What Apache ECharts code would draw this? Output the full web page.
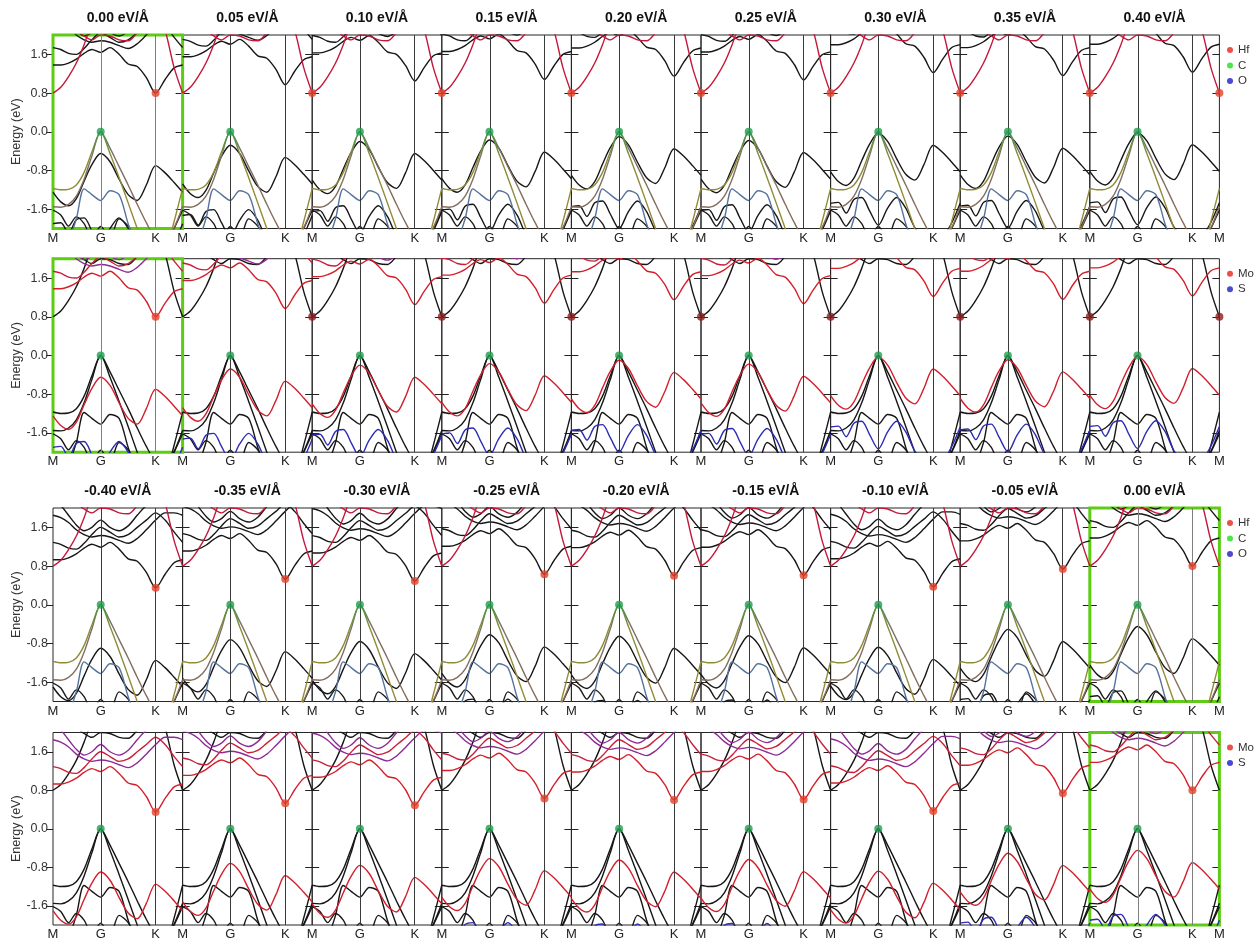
<!DOCTYPE html>
<html>
<head>
<meta charset="utf-8">
<title>Band structures under electric field</title>
<script src="https://cdn.jsdelivr.net/npm/echarts@6.0.0/dist/echarts.min.js"></script>
<style>
  html, body { margin: 0; padding: 0; background: #fff; }
  #chart { width: 1257px; height: 941px; }
</style>
</head>
<body>
<div id="chart"></div>
<script>
// k-path M-G-K-M scaled to 0..1
const kPos = [0, 0.06, 0.12, 0.18, 0.24, 0.30, 0.368, 0.44, 0.51, 0.58, 0.65, 0.72, 0.792, 0.865, 0.935, 1];
const kTicks = [0, 0.368, 0.792, 1];
const kLabels = ['M', 'G', 'K', 'M'];
const energyTicks = [-1.6, -0.8, 0, 0.8, 1.6];

const fieldsPos = ['0.00', '0.05', '0.10', '0.15', '0.20', '0.25', '0.30', '0.35', '0.40'];
const fieldsNeg = ['-0.40', '-0.35', '-0.30', '-0.25', '-0.20', '-0.15', '-0.10', '-0.05', '0.00'];
// MoS2-layer bands move almost rigidly with the field; offset
const moShiftPos = [0, 0.17, 0.25, 0.28, 0.35, 0.27, 0.42, 0.36, 0.43];
const moShiftNeg = [-0.45, -0.27, -0.31, -0.17, -0.20, -0.19, -0.43, -0.06, 0];

// Hf2CO2-layer bands (eV), same in every panel
const vbC1 = [-1.17, -1.2, -1.19, -1.1, -0.84, -0.42, 0, -0.45, -0.95, -1.47, -2.0, -2.5, -2.7, -2.5, -1.85, -1.17];
const vbC2 = [-1.55, -1.56, -1.5, -1.33, -0.98, -0.5, 0, -0.34, -0.72, -1.1, -1.5, -1.88, -2.2, -2.3, -1.98, -1.55];
const vbO = [-2.5, -2.45, -2.25, -1.8, -1.18, -1.3, -1.42, -1.22, -1.3, -1.9, -2.4, -2.6, -2.6, -2.6, -2.55, -2.5];
const vbLow = [-1.62, -1.72, -1.95, -1.76, -1.9, -2.2, -1.96, -2.2, -1.8, -1.95, -2.3, -2.5, -2.6, -2.4, -2.0, -1.62];
const cbHf = [0.8, 0.92, 1.14, 1.42, 1.8, 2.25, 2.6, 2.7, 2.7, 2.7, 2.7, 2.7, 2.6, 2.1, 1.32, 0.8];
const cbHfTop = [2.5, 2.4, 2.25, 2.1, 1.98, 1.9, 2.0, 1.98, 1.9, 1.88, 2.05, 2.3, 2.5, 2.5, 2.5, 2.5];

// MoS2-layer bands (eV) at zero field
const vbMo = [-1.25, -1.45, -1.53, -1.38, -1.02, -0.68, -0.45, -0.62, -0.98, -1.3, -1.42, -1.1, -0.7, -0.85, -1.05, -1.25];
const vbS = [-1.9, -1.88, -2.1, -1.82, -1.78, -2.05, -2.35, -2.0, -1.78, -2.0, -2.4, -2.6, -2.7, -2.6, -2.3, -1.9];
const cbMo = [1.38, 1.38, 1.42, 1.5, 1.62, 1.7, 1.64, 1.74, 1.6, 1.4, 1.35, 1.12, 0.8, 1.08, 1.32, 1.38];
const cbMo2 = [1.74, 1.7, 1.62, 1.6, 1.72, 1.9, 2.05, 1.95, 1.85, 1.9, 2.05, 2.2, 2.35, 2.2, 1.95, 1.74];
const cbMoD1 = [2.3, 2.25, 2.15, 2.0, 1.9, 1.85, 1.88, 1.85, 1.78, 1.72, 1.82, 2.0, 2.2, 2.35, 2.35, 2.3];
const cbMoD2 = [2.6, 2.5, 2.3, 2.1, 1.98, 2.05, 2.2, 2.05, 1.98, 2.08, 2.3, 2.5, 2.6, 2.6, 2.6, 2.6];

const hfBands = [vbLow, vbO, vbC2, vbC1, cbHfTop, cbHf];
const hfColors = ['#1b1b1b', '#55739c', ['#4a8f50', '#7d7068', '#8a6a55'], ['#3f9646', '#8a8c36', '#9b8a36'], '#c4183a', '#c4183a'];
const moBands = [vbS, vbMo, cbMoD2, cbMoD1, cbMo2, cbMo];
const moColors = ['#2b2bb5', '#d21f2c', '#8e2a94', '#8e2a94', '#c8203c', '#d41f2a'];
const plain = '#161616';

const left0 = 53, panelW = 129.6, panelH = 193.5;
const rowTops = [35, 258.7, 508, 732.5];
const rows = [
  { fields: fieldsPos, shifts: moShiftPos, proj: 'hf', legend: ['Hf', 'C', 'O'], titled: true },
  { fields: fieldsPos, shifts: moShiftPos, proj: 'mo', legend: ['Mo', 'S'], titled: false },
  { fields: fieldsNeg, shifts: moShiftNeg, proj: 'hf', legend: ['Hf', 'C', 'O'], titled: true },
  { fields: fieldsNeg, shifts: moShiftNeg, proj: 'mo', legend: ['Mo', 'S'], titled: false }
];

function grad(stops) {
  return {
    type: 'linear', x: 0, y: 0, x2: 0, y2: 1,
    colorStops: stops.map((c, i) => ({ offset: i === 1 ? 0.2 : i / (stops.length - 1), color: c }))
  };
}

const grid = [], xAxis = [], yAxis = [], series = [], title = [];

rows.forEach((row, r) => {
  row.fields.forEach((field, c) => {
    const gi = grid.length;
    const shift = row.shifts[c];
    const isRef = field === '0.00';
    const x0 = left0 + c * panelW;

    grid.push({
      left: x0, top: rowTops[r], width: panelW, height: panelH,
      show: true, borderColor: isRef ? '#5ccc14' : '#262626', borderWidth: isRef ? 3 : 1,
      z: isRef ? 1 : 0
    });

    xAxis.push({
      gridIndex: gi, type: 'value', min: 0, max: 1,
      axisLine: { show: false }, axisTick: { show: false }, splitLine: { show: false },
      axisLabel: {
        customValues: c === 0 ? kTicks : kTicks.slice(1),
        formatter: v => kLabels[kTicks.findIndex(t => Math.abs(t - v) < 1e-6)],
        color: '#222', fontSize: 13, margin: 3
      }
    });

    yAxis.push({
      gridIndex: gi, type: 'value', min: -2, max: 2, position: 'left',
      axisLine: { show: false }, splitLine: { show: false },
      axisTick: { show: true, inside: c > 0, length: 7, customValues: energyTicks, lineStyle: { color: '#222' } },
      axisLabel: {
        show: c === 0, customValues: energyTicks, formatter: v => v.toFixed(1),
        color: '#333', fontSize: 12.5, margin: 5
      },
      name: c === 0 ? 'Energy (eV)' : '', nameLocation: 'middle', nameGap: 28,
      nameTextStyle: { fontSize: 12.5, color: '#333' }
    });
    yAxis.push({
      gridIndex: gi, type: 'value', min: -2, max: 2, position: 'right',
      axisLine: { show: false }, splitLine: { show: false },
      axisTick: { show: true, inside: true, length: 7, customValues: energyTicks, lineStyle: { color: '#222' } },
      axisLabel: { show: false }
    });

    const addBands = (bands, colors, s, colored) => bands.forEach((vals, b) => {
      const col = colored ? colors[b] : plain;
      series.push({
        type: 'line', xAxisIndex: gi, yAxisIndex: 2 * gi,
        data: kPos.map((k, i) => [k, +(vals[i] + s).toFixed(3)]),
        smooth: 0.3, showSymbol: false, silent: true,
        lineStyle: { width: 1.4, color: Array.isArray(col) ? grad(col) : col },
        z: colored ? 3 : 2
      });
    });

    // high-symmetry lines at G and K
    series.push({
      type: 'line', xAxisIndex: gi, yAxisIndex: 2 * gi, data: [], silent: true, z: 1,
      markLine: {
        silent: true, symbol: ['none', 'none'], label: { show: false },
        lineStyle: { color: isRef ? '#808080' : '#3a3a3a', width: 1, type: 'solid' },
        data: [{ xAxis: kTicks[1] }, { xAxis: kTicks[2] }]
      }
    });

    if (row.proj === 'hf') {
      addBands(moBands, moColors, shift, false);
      addBands(hfBands, hfColors, 0, true);
    } else {
      addBands(hfBands, hfColors, 0, false);
      addBands(moBands, moColors, shift, true);
    }

    // band edges: VBM (max of valence tops) and CBM (min of conduction bottoms)
    let vbm = { k: 0, e: -9 };
    [[vbC1, 0], [vbMo, shift]].forEach(([vals, s]) => vals.forEach((v, i) => {
      if (v + s > vbm.e) vbm = { k: kPos[i], e: v + s };
    }));
    let cbm = { k: 0, e: 9, own: 'hf' };
    [[cbHf, 0, 'hf'], [cbMo, shift, 'mo']].forEach(([vals, s, own]) => vals.forEach((v, i) => {
      if (v + s <= cbm.e + 1e-9) cbm = { k: kPos[i], e: v + s, own };
    }));
    const cbmColor = (row.proj === 'mo' && cbm.own === 'hf') ? '#8e1d1d' : '#e3402b';
    series.push({
      type: 'scatter', xAxisIndex: gi, yAxisIndex: 2 * gi, silent: true, clip: false, z: 5,
      symbolSize: 8,
      data: [
        { value: [vbm.k, vbm.e], itemStyle: { color: '#1f9d4e' } },
        { value: [cbm.k, cbm.e], itemStyle: { color: cbmColor } }
      ]
    });

    if (row.titled) {
      title.push({
        text: field + ' eV/Å', left: x0 + panelW / 2, top: rowTops[r] - 24, textAlign: 'center', padding: 0,
        textStyle: { fontSize: 14, fontWeight: 'bold', color: '#111' }
      });
    }
  });
});

// legend entries
[['Hf', '#e8231c'], ['C', '#22dd22'], ['O', '#1c1cc8'], ['Mo', '#e8231c'], ['S', '#1c1cc8']].forEach(([name, color]) => {
  series.push({ name, type: 'scatter', data: [], xAxisIndex: 0, yAxisIndex: 0, itemStyle: { color } });
});
const legend = rows.map((row, r) => ({
  data: row.legend, orient: 'vertical', left: 1227, top: rowTops[r] + 8.5,
  icon: 'circle', itemWidth: 6, itemHeight: 6, itemGap: 2.5, padding: 0, selectedMode: false,
  textStyle: { fontSize: 11.5, color: '#333', lineHeight: 13 }
}));

const chart = echarts.init(document.getElementById('chart'));
chart.setOption({
  animation: false,
  textStyle: { fontFamily: 'Arial, "Liberation Sans", sans-serif' },
  title, legend, grid, xAxis, yAxis, series
});
</script>
</body>
</html>
